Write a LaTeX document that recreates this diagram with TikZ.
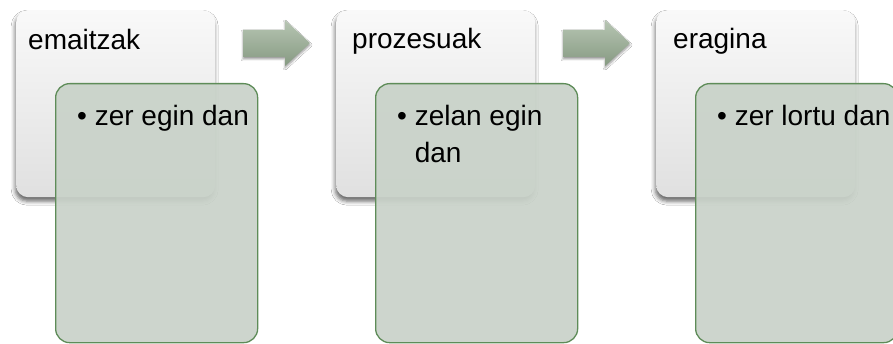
\documentclass[tikz,border=0pt]{standalone}
\usepackage{fontspec}
\setmainfont{Liberation Sans}
\usetikzlibrary{shadows.blur}
\definecolor{gfill}{HTML}{C9D2C9}
\definecolor{gline}{HTML}{5E8C58}
\definecolor{wtop}{HTML}{F9F9F9}
\definecolor{wbot}{HTML}{E0E0E0}
\definecolor{atop}{HTML}{B7C5B3}
\definecolor{abot}{HTML}{869A82}
\begin{document}
\begin{tikzpicture}[x=1pt,y=-1pt,
  whitebox/.style={rectangle, rounded corners=12pt, anchor=north west, inner sep=0pt,
    minimum width=199pt, minimum height=187pt, top color=wtop, bottom color=wbot, draw=none,
    blur shadow={shadow xshift=-1pt, shadow yshift=-4pt, shadow blur radius=4pt, shadow opacity=60}},
  greenbox/.style={rectangle, rounded corners=14pt, anchor=north west, inner sep=0pt,
    minimum width=202pt, minimum height=259pt, fill=gfill, fill opacity=0.92, draw=gline, line width=1.3pt},
  title/.style={anchor=base west, inner sep=0pt, font=\fontsize{28}{33}\selectfont},
  item/.style={anchor=base west, inner sep=0pt, align=left, font=\fontsize{28}{37}\selectfont},
  blockarrow/.style={top color=atop, bottom color=abot, draw=none,
    blur shadow={shadow xshift=0pt, shadow yshift=-2pt, shadow blur radius=2pt, shadow opacity=40}}
]
\useasboundingbox (0,0) rectangle (893,344);
\fill[white] (0,0) rectangle (893,344);

% boxes
\node[whitebox] (w1) at (16,10) {};
\node[whitebox] (w2) at (336,10) {};
\node[whitebox] (w3) at (656,10) {};

\node[title] (t1) at (28,50) {emaitzak};
\node[title] (t2) at (352,49) {prozesuak};
\node[title] (t3) at (673,49) {eragina};

\node[greenbox] (g1) at (55,83) {};
\node[greenbox] (g2) at (375,83) {};
\node[greenbox] (g3) at (695,83) {};

\node[item] (i1) at (77,126) {• zer egin dan};
\node[item] (i2) at (397,163) {• zelan egin\\\phantom{• }dan};
\node[item] (i3) at (717,126) {• zer lortu dan};

% block arrows
\path[blockarrow] (243,30) -- (285,30) -- (285,20) -- (310,43) -- (285,66) -- (285,57) -- (243,57) -- cycle;
\path[blockarrow] (563,30) -- (605,30) -- (605,20) -- (630,43) -- (605,66) -- (605,57) -- (563,57) -- cycle;
\end{tikzpicture}
\end{document}
